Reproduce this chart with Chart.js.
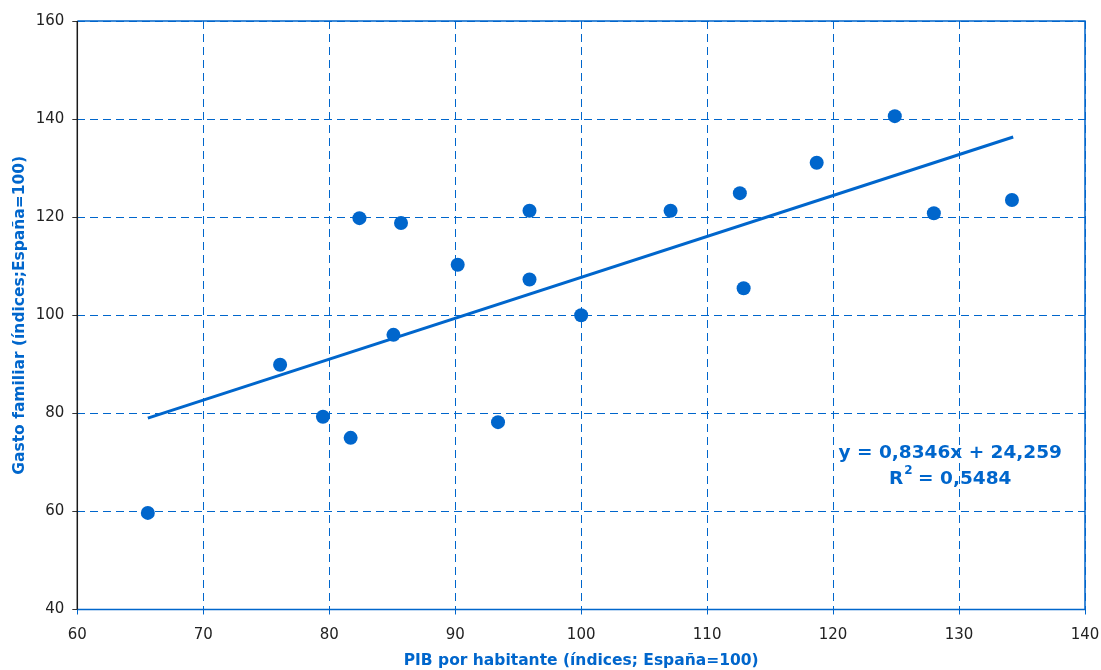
<!DOCTYPE html>
<html>
<head>
<meta charset="utf-8">
<script src="https://cdn.jsdelivr.net/npm/chart.js@4.4.1/dist/chart.umd.min.js"></script>
<style>
  html, body { margin: 0; padding: 0; background: #ffffff; }
  #wrap { width: 1101px; height: 670px; position: relative; }
</style>
</head>
<body>
<div id="wrap"><canvas id="chart" width="1101" height="670"></canvas></div>
<script>
// PIB por habitante vs. gasto familiar (índices, España = 100)
const pibPorHabitante = [65.6, 76.1, 79.5, 81.7, 82.4, 85.1, 85.7, 90.2, 93.4, 95.9, 95.9, 100.0, 107.1, 112.6, 112.9, 118.7, 124.9, 128.0, 134.2];
const gastoFamiliar   = [59.7, 89.9, 79.3, 75.0, 119.8, 96.0, 118.8, 110.3, 78.2, 121.3, 107.3, 100.0, 121.3, 124.9, 105.5, 131.1, 140.6, 120.8, 123.5];

// Regresión lineal indicada en el gráfico
const pendiente = 0.8346;
const ordenada = 24.259;
const r2 = 0.5484;
const tendenciaX = [65.6, 134.3];

const xTicks = [60, 70, 80, 90, 100, 110, 120, 130, 140];
const yTicks = [40, 60, 80, 100, 120, 140, 160];

const tituloX = 'PIB por habitante (índices; España=100)';
const tituloY = 'Gasto familiar (índices;España=100)';
const fmt = v => v.toFixed(4).replace('.', ',');
const textoEcuacion = 'y = ' + fmt(pendiente) + 'x + ' + ordenada.toFixed(3).replace('.', ',');
const textoR2 = fmt(r2);

const AZUL = '#0066cc';
const FONT = '"DejaVu Sans", Verdana, sans-serif';

const puntos = pibPorHabitante.map((x, i) => ({ x, y: gastoFamiliar[i] }));
const tendencia = tendenciaX.map(x => ({ x, y: pendiente * x + ordenada }));

// Marco del área de trazado y ecuación de la recta
const marcoPlugin = {
  id: 'marco',
  afterDatasetsDraw(chart) {
    const { ctx, chartArea: a, scales } = chart;
    ctx.save();
    ctx.strokeStyle = AZUL;
    ctx.lineWidth = 1.5;
    ctx.beginPath();
    ctx.moveTo(a.left, a.top);
    ctx.lineTo(a.right, a.top);
    ctx.lineTo(a.right, a.bottom);
    ctx.lineTo(a.left, a.bottom);
    ctx.stroke();
    ctx.strokeStyle = '#1a1a1a';
    ctx.beginPath();
    ctx.moveTo(a.left, a.top);
    ctx.lineTo(a.left, a.bottom);
    ctx.stroke();

    // ecuación de la recta de tendencia
    const cx = scales.x.getPixelForValue(129.3);
    const y1 = scales.y.getPixelForValue(71.9);
    const y2 = scales.y.getPixelForValue(66.6);
    const big = 'bold 18.5px ' + FONT;
    const small = 'bold 12px ' + FONT;
    ctx.fillStyle = AZUL;
    ctx.font = big;
    ctx.textAlign = 'center';
    ctx.textBaseline = 'middle';
    ctx.fillText(textoEcuacion, cx, y1);
    // R² con superíndice
    const parteA = 'R';
    const parteB = ' = ' + textoR2;
    ctx.font = big;
    const wA = ctx.measureText(parteA).width;
    const wB = ctx.measureText(parteB).width;
    ctx.font = small;
    const wS = ctx.measureText('2').width;
    const x0 = cx - (wA + wS + wB) / 2;
    ctx.textAlign = 'left';
    ctx.font = big;
    ctx.fillText(parteA, x0, y2);
    ctx.font = small;
    ctx.fillText('2', x0 + wA + 1, y2 - 8);
    ctx.font = big;
    ctx.fillText(parteB, x0 + wA + wS, y2);
    ctx.restore();
  }
};

new Chart(document.getElementById('chart'), {
  type: 'scatter',
  data: {
    datasets: [
      {
        type: 'line',
        data: tendencia,
        borderColor: AZUL,
        borderWidth: 3,
        pointRadius: 0,
        fill: false,
        order: 2
      },
      {
        data: puntos,
        backgroundColor: AZUL,
        borderColor: AZUL,
        borderWidth: 0,
        pointRadius: 7,
        order: 1
      }
    ]
  },
  options: {
    responsive: false,
    animation: false,
    layout: { padding: { top: 21, right: 16, left: 0, bottom: 0 } },
    plugins: {
      legend: { display: false },
      tooltip: { enabled: false }
    },
    scales: {
      x: {
        type: 'linear',
        min: 60, max: 140,
        afterBuildTicks: s => { s.ticks = xTicks.map(v => ({ value: v })); },
        afterFit: s => { s.height = 60.5; s.paddingLeft = 0; s.paddingRight = 0; },
        grid: {
          color: AZUL,
          lineWidth: 1,
          drawTicks: true,
          tickLength: 5,
          tickColor: AZUL,
          tickBorderDash: []
        },
        border: { display: false, dash: [8, 5] },
        ticks: {
          color: '#222',
          font: { family: FONT, size: 15 },
          padding: 12,
          maxRotation: 0
        },
        title: {
          display: true,
          text: tituloX,
          color: AZUL,
          font: { family: FONT, size: 15.5, weight: 'bold' },
          padding: { top: 4, bottom: 0 }
        }
      },
      y: {
        type: 'linear',
        min: 40, max: 160,
        afterBuildTicks: s => { s.ticks = yTicks.map(v => ({ value: v })); },
        afterFit: s => { s.width = 77.3; s.paddingTop = 0; s.paddingBottom = 0; },
        grid: {
          color: AZUL,
          lineWidth: 1,
          drawTicks: true,
          tickLength: 5,
          tickColor: '#333',
          tickBorderDash: []
        },
        border: { display: false, dash: [8, 5] },
        ticks: {
          color: '#222',
          font: { family: FONT, size: 15 },
          padding: 8
        },
        title: {
          display: true,
          text: tituloY,
          color: AZUL,
          font: { family: FONT, size: 15.5, weight: 'bold' },
          padding: { top: 11, bottom: 0 }
        }
      }
    }
  },
  plugins: [marcoPlugin]
});
</script>
</body>
</html>
